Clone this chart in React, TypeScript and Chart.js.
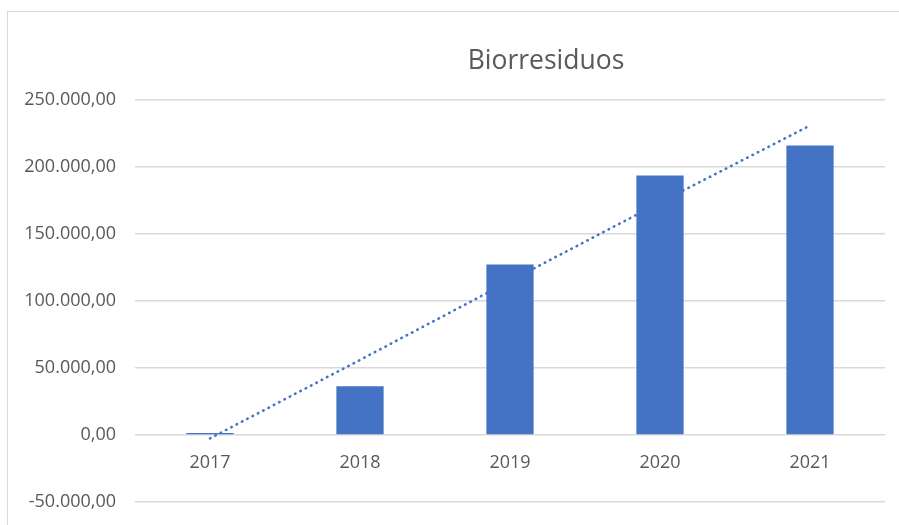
import React, { useEffect, useRef } from "react";
import { Chart, registerables } from "chart.js";

Chart.register(...registerables);

const categories = ["2017", "2018", "2019", "2020", "2021"];
const biorresiduos = [1500, 36300, 127200, 193600, 216100];
const trendValues = [-2500, 56000, 115000, 173500, 231000];
const titleText = "Biorresiduos";
const yMin = -50000;
const yMax = 250000;
const yStep = 50000;

const barColor = "#4472C4";
const textColor = "#595959";
const gridColor = "#d9d9d9";
const fontFamily = "'Open Sans', 'Noto Sans', sans-serif";

function formatEs(v: number): string {
  const neg = v < 0;
  const abs = Math.abs(Math.round(v));
  const s = String(abs).replace(/\B(?=(\d{3})+(?!\d))/g, ".");
  return (neg ? "-" : "") + s + ",00";
}

const titlePlugin = {
  id: "customTitle",
  afterDraw(chart: any) {
    const ctx = chart.ctx;
    ctx.save();
    ctx.font = `26.5px ${fontFamily}`;
    ctx.fillStyle = textColor;
    ctx.textAlign = "center";
    ctx.textBaseline = "middle";
    ctx.fillText(titleText, 546, 61);
    ctx.restore();
  },
};

export default function App() {
  const ref = useRef<HTMLCanvasElement | null>(null);

  useEffect(() => {
    if (!ref.current) return;
    const chart = new Chart(ref.current, {
      type: "bar",
      data: {
        labels: categories,
        datasets: [
          {
            type: "bar",
            label: "Biorresiduos",
            data: biorresiduos,
            backgroundColor: barColor,
            borderWidth: 0,
            barPercentage: 1,
            categoryPercentage: 0.315,
            order: 2,
          },
          {
            type: "line",
            label: "Lineal (Biorresiduos)",
            data: trendValues,
            borderColor: barColor,
            borderWidth: 2.6,
            borderDash: [0.5, 5.5],
            borderCapStyle: "round",
            pointRadius: 0,
            fill: false,
            tension: 0,
            order: 1,
          } as any,
        ],
      },
      options: {
        animation: false,
        responsive: false,
        maintainAspectRatio: false,
        layout: { padding: { left: 0, right: 14, top: 100, bottom: 23 } },
        plugins: {
          legend: { display: false },
          title: { display: false },
          tooltip: { enabled: false },
        },
        scales: {
          x: {
            position: { y: 0 } as any,
            grid: { display: false, drawTicks: false },
            border: { display: false },
            ticks: {
              color: textColor,
              font: { family: fontFamily, size: 18 },
              padding: 17,
            },
          },
          y: {
            min: yMin,
            max: yMax,
            afterFit(scale: any) {
              scale.width = 135;
              scale.paddingTop = 0;
              scale.paddingBottom = 0;
            },
            ticks: {
              stepSize: yStep,
              color: textColor,
              font: { family: fontFamily, size: 18 },
              padding: 19,
              callback: (v: any) => formatEs(Number(v)),
            },
            grid: { color: gridColor, lineWidth: 1.5, drawTicks: false },
            border: { display: false },
          },
        },
      },
      plugins: [titlePlugin],
    });
    return () => chart.destroy();
  }, []);

  return (
    <div
      style={{
        position: "fixed",
        left: 0,
        top: 0,
        width: 899,
        height: 525,
        overflow: "hidden",
        background: "#fff",
      }}
    >
      <div
        style={{
          position: "absolute",
          left: 7,
          top: 11,
          width: 1000,
          height: 700,
          border: "1.5px solid #d9d9d9",
          boxSizing: "border-box",
        }}
      />
      <canvas
        ref={ref}
        width={899}
        height={525}
        style={{ position: "absolute", left: 0, top: 0, width: 899, height: 525 }}
      />
    </div>
  );
}
